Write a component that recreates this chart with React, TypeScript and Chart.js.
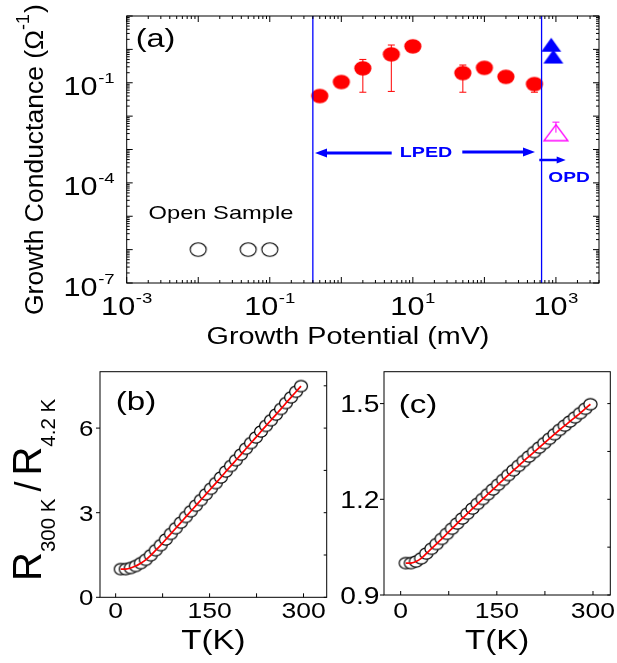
import React, { useEffect, useRef } from 'react';
import { Chart, registerables } from 'chart.js';

Chart.register(...registerables);

const FONT = '"Liberation Sans", Arial, Helvetica, sans-serif';
const PAGE_W = 617;
const PAGE_H = 663;

// ---------------- Panel (a) data ----------------
const openSampleX = [0.01, 0.05, 0.1];
const openSampleY = [1e-6, 1e-6, 1e-6];
const lpedX = [0.5, 1, 2, 5, 10, 50, 100, 200, 500];
const lpedY = [0.04, 0.105, 0.27, 0.71, 1.23, 0.195, 0.28, 0.15, 0.091];
const lpedErrLow = [0.04, 0.105, 0.052, 0.055, 1.23, 0.052, 0.28, 0.15, 0.052];
const lpedErrHigh = [0.04, 0.105, 0.5, 1.35, 1.23, 0.34, 0.28, 0.15, 0.1];
const opdX = [860, 920];
const opdY = [1.38, 0.61];
const opdOpenX = [1000];
const opdOpenY = [0.0032];
const opdOpenErrHigh = [0.0066];
const boundaryX = [0.4, 630];
const xRangeA = [1e-3, 4000];
const yRangeA = [1e-7, 10];
const xTickValsA = [1e-3, 1e-1, 1e1, 1e3];
const xTickExpA = ['-3', '-1', '1', '3'];
const yTickValsA = [1e-7, 1e-4, 1e-1];
const yTickExpA = ['-7', '-4', '-1'];

// ---------------- Panels (b), (c) data ----------------
const tempK = [8, 16, 24, 32, 40, 48, 56, 64, 72, 80, 88, 96, 104, 112, 120, 128, 136, 144, 152, 160, 168, 176, 184, 192, 200, 208, 216, 224, 232, 240, 248, 256, 264, 272, 280, 288, 296];
const ratioB = [1.0, 1.0, 1.04, 1.11, 1.21, 1.33, 1.49, 1.67, 1.85, 2.05, 2.25, 2.45, 2.65, 2.85, 3.05, 3.25, 3.45, 3.65, 3.85, 4.05, 4.25, 4.46, 4.66, 4.86, 5.06, 5.27, 5.47, 5.67, 5.88, 6.08, 6.28, 6.48, 6.68, 6.89, 7.09, 7.29, 7.49];
const ratioC = [1.0, 1.0, 1.005, 1.015, 1.03, 1.045, 1.06, 1.076, 1.092, 1.108, 1.124, 1.14, 1.155, 1.171, 1.186, 1.201, 1.216, 1.231, 1.246, 1.261, 1.276, 1.291, 1.305, 1.32, 1.334, 1.348, 1.362, 1.376, 1.39, 1.404, 1.418, 1.431, 1.444, 1.457, 1.47, 1.484, 1.498];
const xRangeB = [-25, 337];
const xRangeC = [-26, 327];
const yRangeB = [0, 8];
const yRangeC = [0.9, 1.6];
const xTickValsBC = [0, 150, 300];
const xTickLabelsBC = ['0', '150', '300'];
const xMinorBC = [75, 225];
const yTickValsB = [0, 3, 6];
const yTickLabelsB = ['0', '3', '6'];
const yMinorB = [1.5, 4.5, 7.5];
const yTickValsC = [0.9, 1.2, 1.5];
const yTickLabelsC = ['0.9', '1.2', '1.5'];
const yMinorC = [1.05, 1.35];

// ---------------- helpers ----------------
type Run = { t: string; size: number; dy?: number; gap?: number; bold?: boolean };

const fontOf = (r: Run) => `${r.bold ? 'bold ' : ''}${r.size}px ${FONT}`;

function drawRuns(
  ctx: CanvasRenderingContext2D,
  runs: Run[],
  x: number,
  y: number,
  o: { align?: 'left' | 'center' | 'right'; sx?: number; rotate?: number; color?: string } = {}
) {
  const sx = o.sx ?? 1;
  ctx.save();
  ctx.fillStyle = o.color ?? '#000';
  ctx.textBaseline = 'alphabetic';
  ctx.textAlign = 'left';
  const widths = runs.map((r) => {
    ctx.font = fontOf(r);
    return ctx.measureText(r.t).width;
  });
  const total = runs.reduce((s, r, i) => s + (r.gap ?? 0) + widths[i], 0);
  ctx.translate(x, y);
  if (o.rotate) ctx.rotate(o.rotate);
  ctx.scale(sx, 1);
  let cx = o.align === 'center' ? -total / 2 : o.align === 'right' ? -total : 0;
  runs.forEach((r, i) => {
    cx += r.gap ?? 0;
    ctx.font = fontOf(r);
    ctx.fillText(r.t, cx, r.dy ?? 0);
    cx += widths[i];
  });
  ctx.restore();
}

function line(ctx: CanvasRenderingContext2D, x1: number, y1: number, x2: number, y2: number) {
  ctx.beginPath();
  ctx.moveTo(x1, y1);
  ctx.lineTo(x2, y2);
  ctx.stroke();
}

function arrow(ctx: CanvasRenderingContext2D, xTail: number, xHead: number, y: number, lw: number, headLen: number, headHalf: number, color: string) {
  const dir = Math.sign(xHead - xTail);
  ctx.save();
  ctx.strokeStyle = color;
  ctx.fillStyle = color;
  ctx.lineWidth = lw;
  line(ctx, xTail, y, xHead - dir * headLen * 0.8, y);
  ctx.beginPath();
  ctx.moveTo(xHead, y);
  ctx.lineTo(xHead - dir * headLen, y - headHalf);
  ctx.lineTo(xHead - dir * headLen, y + headHalf);
  ctx.closePath();
  ctx.fill();
  ctx.restore();
}

function logTicks(min: number, max: number) {
  const res: { v: number; major: boolean }[] = [];
  for (let e = Math.floor(Math.log10(min)); e <= Math.ceil(Math.log10(max)); e++) {
    for (let m = 1; m < 10; m++) {
      const v = m * Math.pow(10, e);
      if (v >= min * 0.999 && v <= max * 1.001) res.push({ v, major: m === 1 });
    }
  }
  return res;
}

function makeMarker(w: number, h: number, draw: (c: CanvasRenderingContext2D, w: number, h: number) => void) {
  const c = document.createElement('canvas');
  c.width = w;
  c.height = h;
  draw(c.getContext('2d')!, w, h);
  return c;
}

function ellipseMarker(rx: number, ry: number, fill: string | null, stroke: string | null, lw: number) {
  const w = Math.ceil(2 * rx + lw + 2);
  const h = Math.ceil(2 * ry + lw + 2);
  return makeMarker(w, h, (c) => {
    c.beginPath();
    c.ellipse(w / 2, h / 2, rx, ry, 0, 0, Math.PI * 2);
    if (fill) {
      c.fillStyle = fill;
      c.fill();
    }
    if (stroke) {
      c.strokeStyle = stroke;
      c.lineWidth = lw;
      c.stroke();
    }
  });
}

function triangleMarker(tw: number, th: number, fill: string | null, stroke: string | null, lw: number) {
  const w = Math.ceil(tw + lw + 4);
  const h = Math.ceil(th + lw + 4);
  return makeMarker(w, h, (c) => {
    c.beginPath();
    c.moveTo(w / 2, h / 2 - th / 2);
    c.lineTo(w / 2 + tw / 2, h / 2 + th / 2);
    c.lineTo(w / 2 - tw / 2, h / 2 + th / 2);
    c.closePath();
    if (fill) {
      c.fillStyle = fill;
      c.fill();
    }
    if (stroke) {
      c.strokeStyle = stroke;
      c.lineWidth = lw;
      c.stroke();
    }
  });
}

const pts = (xs: number[], ys: number[]) => xs.map((x, i) => ({ x, y: ys[i] }));

const baseOptions = {
  animation: false as const,
  responsive: false,
  maintainAspectRatio: false,
  events: [] as any[],
  plugins: { legend: { display: false }, tooltip: { enabled: false } },
};

// ---------------- Panel (a) ----------------
function configA(markers: any) {
  const errorBars = {
    id: 'errA',
    afterDatasetsDraw(chart: any) {
      const { ctx, scales } = chart;
      const { x, y } = scales;
      ctx.save();
      ctx.lineWidth = 1;
      ctx.strokeStyle = '#ff0000';
      lpedX.forEach((v, i) => {
        const lo = lpedErrLow[i];
        const hi = lpedErrHigh[i];
        if (lo >= lpedY[i] && hi <= lpedY[i]) return;
        const px = x.getPixelForValue(v);
        const pLo = y.getPixelForValue(lo);
        const pHi = y.getPixelForValue(hi);
        line(ctx, px, pLo, px, pHi);
        if (lo < lpedY[i]) line(ctx, px - 3.5, pLo, px + 3.5, pLo);
        if (hi > lpedY[i]) line(ctx, px - 3.5, pHi, px + 3.5, pHi);
      });
      ctx.strokeStyle = '#ff00ff';
      opdOpenX.forEach((v, i) => {
        const px = x.getPixelForValue(v);
        const pC = y.getPixelForValue(opdOpenY[i]);
        const pHi = y.getPixelForValue(opdOpenErrHigh[i]);
        line(ctx, px, pC, px, pHi);
        line(ctx, px - 3.5, pHi, px + 3.5, pHi);
      });
      ctx.restore();
    },
  };

  const decor = {
    id: 'decorA',
    afterDraw(chart: any) {
      const { ctx, chartArea: a, scales } = chart;
      const { x, y } = scales;
      ctx.save();
      ctx.strokeStyle = '#000';
      ctx.lineWidth = 1;
      ctx.strokeRect(a.left, a.top, a.right - a.left, a.bottom - a.top);
      logTicks(xRangeA[0], xRangeA[1]).forEach((t) => {
        const px = x.getPixelForValue(t.v);
        const L = t.major ? 6 : 3;
        line(ctx, px, a.bottom, px, a.bottom - L);
        line(ctx, px, a.top, px, a.top + L);
      });
      logTicks(yRangeA[0], yRangeA[1]).forEach((t) => {
        const py = y.getPixelForValue(t.v);
        const L = t.major ? 6 : 3;
        line(ctx, a.left, py, a.left + L, py);
        line(ctx, a.right, py, a.right - L, py);
      });
      ctx.restore();

      xTickValsA.forEach((v, i) => {
        drawRuns(ctx, [{ t: '10', size: 25.5 }, { t: xTickExpA[i], size: 15.5, dy: -12, gap: 0.5 }], x.getPixelForValue(v), a.bottom + 32, { align: 'center', sx: 1.2 });
      });
      yTickValsA.forEach((v, i) => {
        drawRuns(ctx, [{ t: '10', size: 25.5 }, { t: yTickExpA[i], size: 15.5, dy: -12, gap: 0.5 }], a.left - 12, y.getPixelForValue(v) + 12.5, { align: 'right', sx: 1.2 });
      });

      // axis titles
      drawRuns(ctx, [{ t: 'Growth Conductance (Ω', size: 26.5 }, { t: '-1', size: 18, dy: -14 }, { t: ')', size: 26.5, gap: 1 }], 43, 315, { rotate: -Math.PI / 2 });
      drawRuns(ctx, [{ t: 'Growth Potential (mV)', size: 23 }], 348, 344, { align: 'center', sx: 1.25 });

      // annotations
      drawRuns(ctx, [{ t: '(a)', size: 25 }], 155.5, 46.5, { align: 'center', sx: 1.3 });
      drawRuns(ctx, [{ t: 'Open Sample', size: 18.5 }], 221, 219.3, { align: 'center', sx: 1.28 });
      drawRuns(ctx, [{ t: 'LPED', size: 15.5, bold: true }], 426, 157.3, { align: 'center', sx: 1.27, color: '#0000ff' });
      drawRuns(ctx, [{ t: 'OPD', size: 14.5, bold: true }], 569, 181.7, { align: 'center', sx: 1.32, color: '#0000ff' });
      arrow(ctx, 391.7, 315, 153, 3, 12, 4.5, '#0000ff');
      arrow(ctx, 462.3, 535, 152, 3, 12, 4.5, '#0000ff');
      arrow(ctx, 539.3, 565.7, 160, 2.5, 9, 3.5, '#0000ff');
    },
  };

  return {
    type: 'scatter' as const,
    data: {
      datasets: [
        { label: 'Open Sample', data: pts(openSampleX, openSampleY), pointStyle: markers.openA, pointRadius: 3, order: 3 },
        { label: 'LPED', data: pts(lpedX, lpedY), pointStyle: markers.red, pointRadius: 3, order: 2 },
        { label: 'OPD', data: pts(opdX, opdY), pointStyle: markers.blueTri, pointRadius: 3, order: 2 },
        { label: 'OPD (open)', data: pts(opdOpenX, opdOpenY), pointStyle: markers.magTri, pointRadius: 3, order: 2 },
        ...boundaryX.map((b) => ({
          label: 'boundary',
          data: [
            { x: b, y: yRangeA[0] },
            { x: b, y: yRangeA[1] },
          ],
          showLine: true,
          borderColor: '#0000ff',
          borderWidth: 1.3,
          pointRadius: 0,
          order: 1,
        })),
      ],
    },
    options: {
      ...baseOptions,
      layout: { padding: { left: 126.7, right: PAGE_W - 599, top: 16, bottom: PAGE_H - 283 } },
      scales: {
        x: { type: 'logarithmic' as const, min: xRangeA[0], max: xRangeA[1], display: false },
        y: { type: 'logarithmic' as const, min: yRangeA[0], max: yRangeA[1], display: false },
      },
    },
    plugins: [errorBars, decor],
  };
}

// ---------------- Panels (b), (c) ----------------
type LinSpec = {
  id: string;
  ratio: number[];
  xRange: number[];
  yRange: number[];
  area: { left: number; right: number; top: number; bottom: number };
  yTicks: number[];
  yLabels: string[];
  yMinor: number[];
  yFont: number;
  yLabelGap: number;
  yLabelDy: number;
  panel: string;
  panelX: number;
  panelBaseline: number;
  marker: any;
  drawYTitle: boolean;
};

function configLin(s: LinSpec) {
  const decor = {
    id: 'decor' + s.id,
    afterDraw(chart: any) {
      const { ctx, chartArea: a, scales } = chart;
      const { x, y } = scales;
      ctx.save();
      ctx.strokeStyle = '#000';
      ctx.lineWidth = 1;
      ctx.strokeRect(a.left, a.top, a.right - a.left, a.bottom - a.top);
      [...xTickValsBC, ...xMinorBC].forEach((v) => {
        const px = x.getPixelForValue(v);
        line(ctx, px, a.bottom, px, a.bottom - 4);
      });
      s.yTicks.forEach((v) => {
        const py = y.getPixelForValue(v);
        line(ctx, a.left, py, a.left - 4, py);
      });
      [...s.yTicks, ...s.yMinor].forEach((v) => {
        const py = y.getPixelForValue(v);
        line(ctx, a.right, py, a.right - 3, py);
      });
      ctx.restore();

      xTickValsBC.forEach((v, i) => {
        drawRuns(ctx, [{ t: xTickLabelsBC[i], size: 22.5 }], x.getPixelForValue(v), 617.5, { align: 'center', sx: 1.18 });
      });
      s.yTicks.forEach((v, i) => {
        drawRuns(ctx, [{ t: s.yLabels[i], size: s.yFont }], a.left - s.yLabelGap, y.getPixelForValue(v) + s.yLabelDy, { align: 'right', sx: 1.15 });
      });
      drawRuns(ctx, [{ t: 'T(K)', size: 28 }], (a.left + a.right) / 2, 649, { align: 'center', sx: 1.18 });
      drawRuns(ctx, [{ t: s.panel, size: 25.5 }], s.panelX, s.panelBaseline, { align: 'center', sx: 1.3 });
      if (s.drawYTitle) {
        drawRuns(
          ctx,
          [
            { t: 'R', size: 40 },
            { t: '300 K', size: 20.5, dy: 14 },
            { t: '/', size: 36, gap: 7 },
            { t: 'R', size: 40, gap: 6 },
            { t: '4.2 K', size: 20.5, dy: 14 },
          ],
          40.5,
          581,
          { rotate: -Math.PI / 2 }
        );
      }
    },
  };

  return {
    type: 'scatter' as const,
    data: {
      datasets: [
        {
          label: 'fit',
          data: pts(tempK, s.ratio),
          showLine: true,
          borderColor: '#ff0000',
          borderWidth: 1.7,
          pointRadius: 0,
          tension: 0.3,
          order: 0,
        },
        { label: 'data', data: pts(tempK, s.ratio), pointStyle: s.marker, pointRadius: 3, order: 1 },
      ],
    },
    options: {
      ...baseOptions,
      layout: {
        padding: {
          left: s.area.left,
          right: PAGE_W - s.area.right,
          top: s.area.top,
          bottom: PAGE_H - s.area.bottom,
        },
      },
      scales: {
        x: { type: 'linear' as const, min: s.xRange[0], max: s.xRange[1], display: false },
        y: { type: 'linear' as const, min: s.yRange[0], max: s.yRange[1], display: false },
      },
    },
    plugins: [decor],
  };
}

export default function App() {
  const refA = useRef<HTMLCanvasElement>(null);
  const refB = useRef<HTMLCanvasElement>(null);
  const refC = useRef<HTMLCanvasElement>(null);

  useEffect(() => {
    document.body.style.margin = '0';
    Chart.defaults.font.family = FONT;
    const markers = {
      openA: ellipseMarker(8, 6.7, null, '#000', 1.1),
      red: ellipseMarker(8.6, 7.3, '#ff0000', null, 0),
      blueTri: triangleMarker(20, 14, '#0000ff', null, 0),
      magTri: triangleMarker(24, 16, null, '#ff00ff', 1.3),
      openB: ellipseMarker(6.4, 5.7, '#ffffff', '#000', 1.2),
      openC: ellipseMarker(6.6, 5.6, '#ffffff', '#000', 1.2),
    };
    const charts = [
      new Chart(refA.current!, configA(markers) as any),
      new Chart(
        refB.current!,
        configLin({
          id: 'B',
          ratio: ratioB,
          xRange: xRangeB,
          yRange: yRangeB,
          area: { left: 100, right: 326.7, top: 371.7, bottom: 597.3 },
          yTicks: yTickValsB,
          yLabels: yTickLabelsB,
          yMinor: yMinorB,
          yFont: 22.5,
          yLabelGap: 6.5,
          yLabelDy: 8,
          panel: '(b)',
          panelX: 136,
          panelBaseline: 410,
          marker: markers.openB,
          drawYTitle: true,
        }) as any
      ),
      new Chart(
        refC.current!,
        configLin({
          id: 'C',
          ratio: ratioC,
          xRange: xRangeC,
          yRange: yRangeC,
          area: { left: 384, right: 610.3, top: 371.7, bottom: 595 },
          yTicks: yTickValsC,
          yLabels: yTickLabelsC,
          yMinor: yMinorC,
          yFont: 24.5,
          yLabelGap: 4.5,
          yLabelDy: 8.8,
          panel: '(c)',
          panelX: 418,
          panelBaseline: 413,
          marker: markers.openC,
          drawYTitle: false,
        }) as any
      ),
    ];
    return () => charts.forEach((c) => c.destroy());
  }, []);

  const st: React.CSSProperties = { position: 'absolute', left: 0, top: 0, width: PAGE_W, height: PAGE_H };
  return (
    <div style={{ position: 'fixed', left: 0, top: 0, width: PAGE_W, height: PAGE_H, background: '#fff' }}>
      <canvas ref={refA} width={PAGE_W} height={PAGE_H} style={st} />
      <canvas ref={refB} width={PAGE_W} height={PAGE_H} style={st} />
      <canvas ref={refC} width={PAGE_W} height={PAGE_H} style={st} />
    </div>
  );
}
